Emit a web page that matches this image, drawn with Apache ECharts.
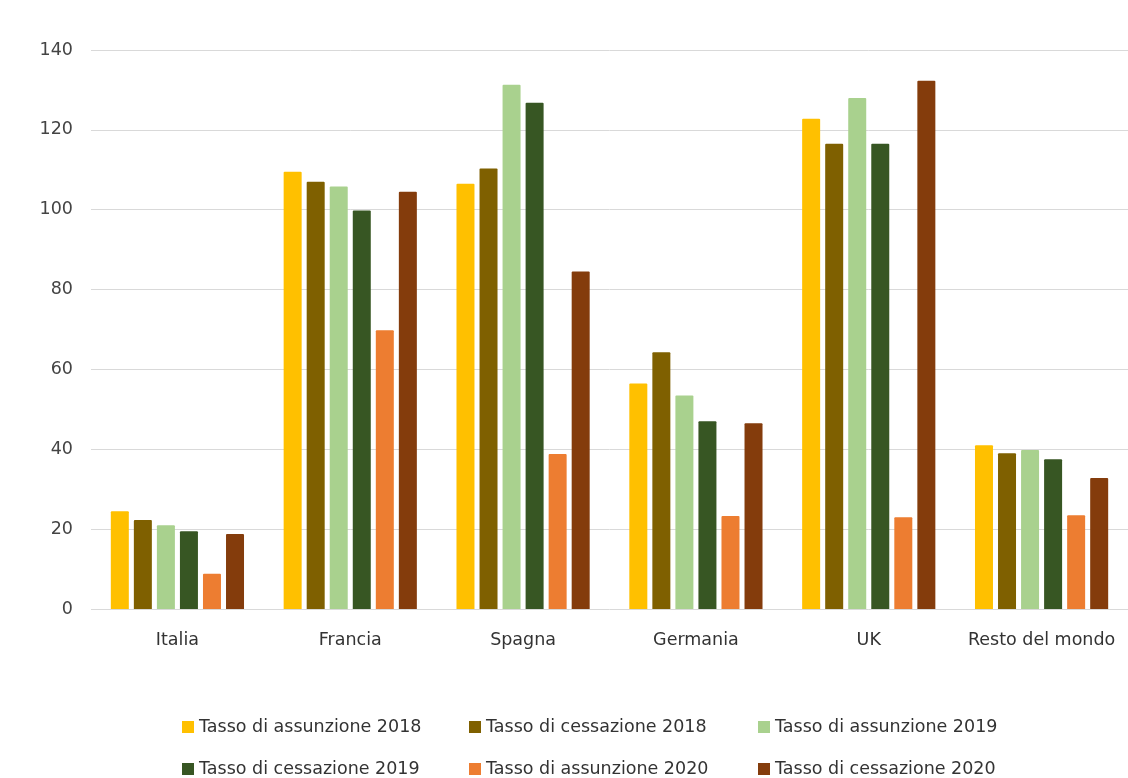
<!DOCTYPE html>
<html>
<head>
<meta charset="utf-8">
<script src="https://cdn.jsdelivr.net/npm/echarts@6/dist/echarts.min.js"></script>
<style>
  html, body { margin: 0; padding: 0; background: #ffffff; }
  #chart { width: 1128px; height: 778px; }
</style>
</head>
<body>
<div id="chart"></div>
<script>
// Countries on the category axis
const categories = ['Italia', 'Francia', 'Spagna', 'Germania', 'UK', 'Resto del mondo'];

// Rates per country
const assunzione2018 = [24.5, 109.5, 106.5, 56.5, 122.8, 41.0];
const cessazione2018 = [22.3, 107.0, 110.3, 64.3, 116.5, 39.0];
const assunzione2019 = [21.0, 105.8, 131.3, 53.5, 128.0, 39.8];
const cessazione2019 = [19.5, 99.8, 126.8, 47.0, 116.5, 37.5];
const assunzione2020 = [8.8, 69.8, 38.8, 23.3, 23.0, 23.5];
const cessazione2020 = [18.8, 104.5, 84.5, 46.5, 132.3, 32.8];

const seriesNames = [
  'Tasso di assunzione 2018', 'Tasso di cessazione 2018', 'Tasso di assunzione 2019',
  'Tasso di cessazione 2019', 'Tasso di assunzione 2020', 'Tasso di cessazione 2020'
];
const seriesValues = [assunzione2018, cessazione2018, assunzione2019, cessazione2019, assunzione2020, cessazione2020];
const seriesColors = ['#ffc000', '#7f6000', '#a9d18e', '#375623', '#ed7d31', '#843c0c'];

// Y axis ticks
const yMin = 0, yMax = 140, yStep = 20;

const fontFamily = "'DejaVu Sans', 'Liberation Sans', Arial, sans-serif";
const fontSize = 17.5;

// One legend per entry, laid out in a 3 x 2 grid
const legendCols = [177, 464, 753];
const legendRows = [712, 754];
const legends = seriesNames.map((name, i) => ({
  data: [name],
  left: legendCols[i % 3],
  top: legendRows[Math.floor(i / 3)],
  itemWidth: 12,
  itemHeight: 12,
  icon: 'rect',
  textStyle: { color: '#333', fontSize: fontSize, lineHeight: 20, fontFamily: fontFamily },
  selectedMode: false
}));

const chart = echarts.init(document.getElementById('chart'), null, { renderer: 'canvas' });
chart.setOption({
  animation: false,
  backgroundColor: '#ffffff',
  grid: { left: 91, right: -8, top: 50, bottom: 169, containLabel: false },
  legend: legends,
  xAxis: {
    type: 'category',
    data: categories,
    axisLine: { show: false },
    axisTick: { show: false },
    axisLabel: {
      interval: 0, hideOverlap: false,
      color: '#333', fontSize: fontSize, fontFamily: fontFamily, margin: 22
    }
  },
  yAxis: {
    type: 'value',
    min: yMin, max: yMax, interval: yStep,
    axisLine: { show: false },
    axisTick: { show: false },
    axisLabel: { color: '#444', fontSize: fontSize, fontFamily: fontFamily, margin: 18 },
    splitLine: { lineStyle: { color: '#d9d9d9', width: 1 } }
  },
  series: seriesNames.map((name, i) => ({
    name: name,
    type: 'bar',
    data: seriesValues[i],
    barWidth: 18,
    barGap: '28%',
    itemStyle: { color: seriesColors[i], borderRadius: [1, 1, 0, 0] }
  }))
});
</script>
</body>
</html>
